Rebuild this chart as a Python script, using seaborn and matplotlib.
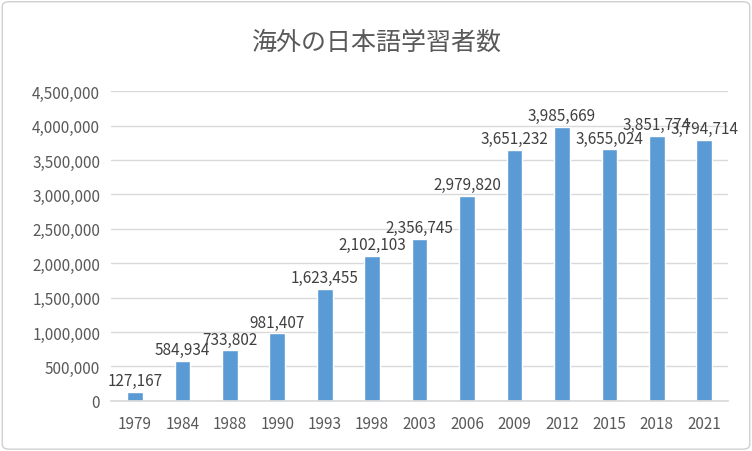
import pandas as pd
import seaborn as sns
import matplotlib.pyplot as plt
from matplotlib.ticker import FuncFormatter
from matplotlib.patches import FancyBboxPatch

years = ["1979", "1984", "1988", "1990", "1993", "1998", "2003", "2006", "2009", "2012", "2015", "2018", "2021"]
learners = [127167, 584934, 733802, 981407, 1623455, 2102103, 2356745, 2979820, 3651232, 3985669, 3655024, 3851774, 3794714]

df = pd.DataFrame({"year": years, "learners": learners})

sns.set_theme(style="white")
plt.rcParams["font.family"] = ["Noto Sans CJK JP", "DejaVu Sans"]

fig = plt.figure(figsize=(7.52, 4.52), dpi=100)
fig.patches.append(FancyBboxPatch((0.003, 0.004), 0.994, 0.99, boxstyle="round,pad=0,rounding_size=0.01",
                                  transform=fig.transFigure, fill=False, edgecolor="#d0d0d0", linewidth=1))
ax = fig.add_axes([0.148, 0.111, 0.82, 0.685])

sns.barplot(data=df, x="year", y="learners", color="#5B9BD5", saturation=1, width=0.33, ax=ax)

for i, v in enumerate(learners):
    ax.text(i, v + 40000, f"{v:,}", ha="center", va="bottom", fontsize=11, color="#404040")

ax.set_ylim(0, 4500000)
ax.set_yticks(range(0, 4500001, 500000))
ax.yaxis.set_major_formatter(FuncFormatter(lambda v, p: f"{int(v):,}"))
ax.grid(axis="y", color="#d9d9d9", linewidth=1)
ax.set_axisbelow(True)
for s in ["top", "right", "left"]:
    ax.spines[s].set_visible(False)
ax.spines["bottom"].set_color("#d9d9d9")
ax.tick_params(axis="both", colors="#595959", labelsize=11, length=0)
ax.tick_params(axis="x", pad=10)
ax.tick_params(axis="y", pad=8)
ax.set_xlabel("")
ax.set_ylabel("")
fig.text(0.5, 0.905, "海外の日本語学習者数", ha="center", va="center", fontsize=18, color="#595959")

fig.savefig("out.png", dpi=100)
